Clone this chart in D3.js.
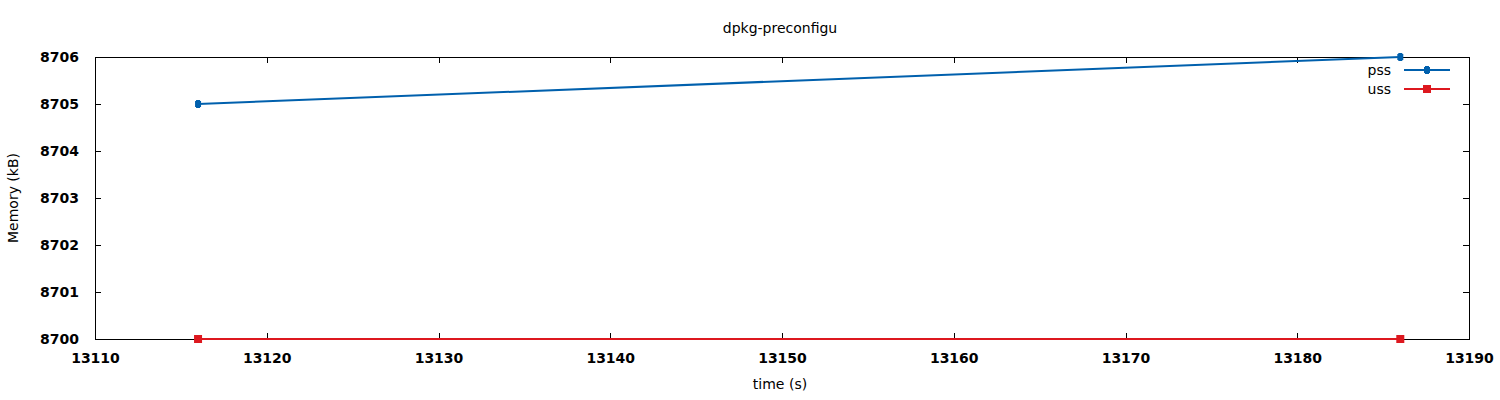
<!DOCTYPE html>
<html><head><meta charset="utf-8">
<script src="https://cdn.jsdelivr.net/npm/d3@7"></script>
<style>body{margin:0;background:#fff}svg{display:block}text{font-family:"DejaVu Sans",sans-serif;font-size:14px;fill:#000}</style>
</head><body><svg id="c" width="1500" height="400"></svg>
<script>
const title = "dpkg-preconfigu";
const times = [13116, 13186];
const pss = [8705, 8706];
const uss = [8700, 8700];
const xTicks = [13110,13120,13130,13140,13150,13160,13170,13180,13190];
const yTicks = [8700,8701,8702,8703,8704,8705,8706];
const seriesNames = ["pss","uss"];
const colors = ["#0060ad","#dd181f"];

const svg = d3.select("#c");
const L=95,R=1469,T=57,B=339;
const x = d3.scaleLinear().domain([13110,13190]).range([L,R]);
const y = d3.scaleLinear().domain([8700,8706]).range([B,T]);
const g = svg.append("g");

g.append("rect").attr("x",L).attr("y",T).attr("width",R-L).attr("height",B-T)
 .attr("fill","none").attr("stroke","#000").attr("stroke-width",1).attr("shape-rendering","crispEdges");

const xb = g.append("g").attr("transform",`translate(0,${B})`).call(d3.axisBottom(x).tickValues(xTicks).tickSizeInner(-6).tickSizeOuter(0).tickPadding(14).tickFormat(d3.format("d")));
const xt = g.append("g").attr("transform",`translate(0,${T})`).call(d3.axisTop(x).tickValues(xTicks).tickSizeInner(-6).tickSizeOuter(0).tickFormat(""));
const yl = g.append("g").attr("transform",`translate(${L},0)`).call(d3.axisLeft(y).tickValues(yTicks).tickSizeInner(-6).tickSizeOuter(0).tickPadding(16).tickFormat(d3.format("d")));
const yr = g.append("g").attr("transform",`translate(${R},0)`).call(d3.axisRight(y).tickValues(yTicks).tickSizeInner(-6).tickSizeOuter(0).tickFormat(""));
[xb,xt,yl,yr].forEach(a=>{a.select(".domain").remove();a.selectAll("line").attr("stroke","#000").attr("shape-rendering","crispEdges");a.selectAll("text").attr("font-family","DejaVu Sans").attr("font-size",13).attr("font-weight","bold").attr("fill","#000");});

const data = [pss, uss];
const line = d3.line().x((d,i)=>x(times[i])).y(d=>y(d));
data.forEach((s,k)=>{
  g.append("path").datum(s).attr("d",line).attr("fill","none").attr("stroke",colors[k]).attr("stroke-width",2);
  s.forEach((v,i)=>marker(k,x(times[i]),y(v)));
});
function marker(k,cx,cy){
  if(k===0){
    g.append("rect").attr("x",cx-3).attr("y",cy-3).attr("width",6).attr("height",6).attr("fill",colors[0]);
    g.append("rect").attr("x",cx-2).attr("y",cy-4).attr("width",4).attr("height",8).attr("fill",colors[0]);
  } else {
    g.append("rect").attr("x",cx-4).attr("y",cy-4).attr("width",8).attr("height",8).attr("fill",colors[1]);
  }
}

seriesNames.forEach((n,k)=>{
  const ly = 70+k*19;
  g.append("text").attr("x",1391).attr("y",ly+5).attr("text-anchor","end").text(n);
  g.append("line").attr("x1",1404).attr("x2",1450).attr("y1",ly).attr("y2",ly).attr("stroke",colors[k]).attr("stroke-width",2);
  marker(k,1427,ly);
});

svg.append("text").attr("x",780).attr("y",33).attr("text-anchor","middle").text(title);
svg.append("text").attr("x",780).attr("y",389).attr("text-anchor","middle").text("time (s)");
svg.append("text").attr("transform","translate(18,198) rotate(-90)").attr("text-anchor","middle").text("Memory (kB)");
</script></body></html>
